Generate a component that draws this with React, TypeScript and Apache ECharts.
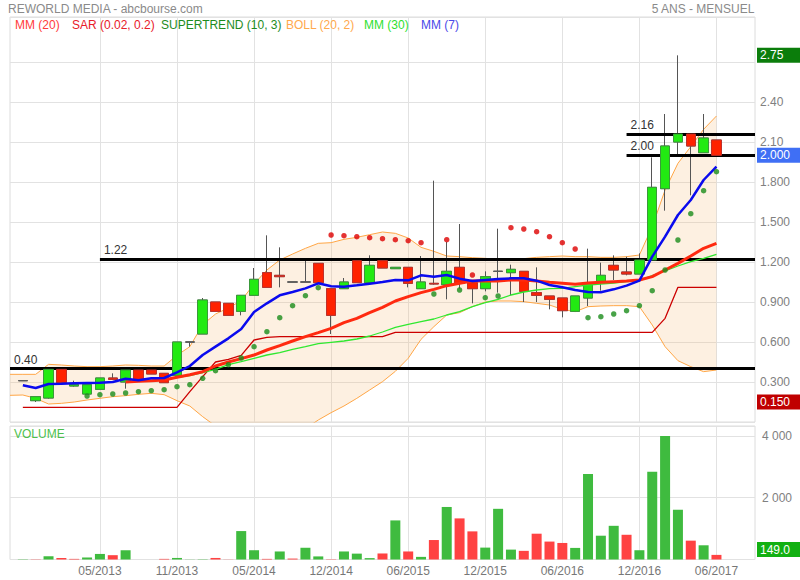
import React, { useEffect, useRef } from "react";
import * as echarts from "echarts";

const MONTHS = [
  "11/2012", "12/2012", "01/2013", "02/2013", "03/2013", "04/2013",
  "05/2013", "06/2013", "07/2013", "08/2013", "09/2013", "10/2013",
  "11/2013", "12/2013", "01/2014", "02/2014", "03/2014", "04/2014",
  "05/2014", "06/2014", "07/2014", "08/2014", "09/2014", "10/2014",
  "12/2014", "01/2015", "02/2015", "03/2015", "04/2015", "05/2015",
  "06/2015", "07/2015", "08/2015", "09/2015", "10/2015", "11/2015",
  "12/2015", "01/2016", "02/2016", "03/2016", "04/2016", "05/2016",
  "06/2016", "07/2016", "08/2016", "09/2016", "10/2016", "11/2016",
  "12/2016", "01/2017", "02/2017", "03/2017", "04/2017", "05/2017",
  "06/2017",
];
const PAD_BEFORE = ["10/2012"];
const PAD_AFTER = ["07/2017", "08/2017", "09/2017"];
const LABELED_MONTHS = ["05/2013", "11/2013", "05/2014", "12/2014", "06/2015", "12/2015", "06/2016", "12/2016", "06/2017"];

const OPEN = [
  0.31, 0.16, 0.18, 0.395, 0.27, 0.21, 0.245, 0.33, 0.30, 0.39,
  0.39, 0.365, 0.35, 0.60, 0.66, 0.90, 0.89, 0.83, 0.95, 1.12,
  1.10, 1.05, 1.05, 1.19, 1.00, 1.00, 1.21, 1.045, 1.21, 1.15,
  1.16, 1.00, 1.04, 1.03, 1.16, 1.045, 1.00, 1.13, 1.12, 1.13,
  0.97, 0.945, 0.93, 0.83, 0.93, 1.055, 1.175, 1.125, 1.11, 1.215,
  1.75, 2.10, 2.16, 2.02, 2.115,
];
const CLOSE = [
  0.31, 0.19, 0.395, 0.295, 0.28, 0.28, 0.33, 0.32, 0.39, 0.31,
  0.36, 0.295, 0.60, 0.60, 0.915, 0.83, 0.80, 0.95, 1.07, 1.01,
  1.09, 1.05, 1.05, 1.045, 0.80, 1.05, 1.045, 1.175, 1.155, 1.16,
  1.04, 1.05, 1.035, 1.13, 1.04, 1.00, 1.09, 1.13, 1.145, 0.98,
  0.95, 0.92, 0.835, 0.945, 1.04, 1.10, 1.14, 1.11, 1.215, 1.76,
  2.07, 2.16, 2.07, 2.13, 2.00,
];
const LOW = [
  0.31, 0.15, 0.175, 0.295, 0.265, 0.21, 0.245, 0.32, 0.25, 0.31,
  0.36, 0.295, 0.35, 0.565, 0.66, 0.83, 0.80, 0.80, 0.95, 1.01,
  1.01, 1.05, 1.05, 1.045, 0.66, 1.00, 1.045, 1.045, 1.155, 1.15,
  1.01, 1.00, 1.03, 0.92, 1.00, 0.89, 0.98, 0.97, 0.95, 0.90,
  0.90, 0.845, 0.785, 0.83, 0.87, 0.985, 1.065, 1.10, 1.11, 1.215,
  1.585, 2.00, 1.70, 2.02, 1.99,
];
const HIGH = [
  0.31, 0.19, 0.395, 0.395, 0.31, 0.28, 0.33, 0.365, 0.39, 0.39,
  0.39, 0.365, 0.60, 0.60, 0.93, 0.90, 0.89, 0.95, 1.155, 1.40,
  1.31, 1.05, 1.215, 1.19, 1.00, 1.08, 1.21, 1.25, 1.21, 1.16,
  1.16, 1.245, 1.81, 1.35, 1.485, 1.045, 1.13, 1.45, 1.18, 1.13,
  1.16, 0.945, 0.93, 0.945, 1.30, 1.195, 1.25, 1.24, 1.265, 1.985,
  2.31, 2.75, 2.16, 2.31, 2.115,
];

const VOLUME = [
  10, 5, 105, 45, 20, 65, 180, 140, 300, 0,
  0, 20, 50, 5, 10, 50, 5, 920, 300, 20,
  260, 30, 380, 100, 10, 260, 190, 45, 195, 1265,
  260, 85, 630, 1700, 1330, 910, 385, 1640, 320, 280,
  835, 580, 535, 375, 2770, 770, 1090, 800, 300, 2840,
  4000, 1610, 610, 460, 149,
];
const VOLUME_UP = [
  1, 0, 1, 0, 0, 1, 1, 0, 1, 0,
  0, 0, 1, 1, 1, 0, 0, 1, 1, 0,
  1, 0, 1, 1, 0, 1, 1, 1, 0, 1,
  0, 1, 0, 1, 0, 0, 1, 1, 1, 0,
  0, 0, 0, 1, 1, 1, 1, 0, 1, 1,
  1, 1, 0, 1, 0,
];

const MM7 = [
  0.275, 0.255, 0.285, 0.287, 0.29, 0.2925, 0.295, 0.30, 0.325, 0.3125,
  0.3275, 0.33, 0.3725, 0.42, 0.5025, 0.565, 0.6275, 0.6975, 0.825, 0.89,
  0.95, 0.975, 1.0025, 1.04, 1.0175, 1.015, 1.025, 1.0375, 1.05, 1.065,
  1.0625, 1.10, 1.09, 1.1025, 1.075, 1.0575, 1.065, 1.0725, 1.0775, 1.0775,
  1.06, 1.0275, 1.01, 0.99, 0.975, 0.9725, 0.995, 1.0225, 1.06, 1.24,
  1.39, 1.5525, 1.665, 1.815, 1.915,
];
const MM20 = [
  null, null, null, null, null, null, null, null, 0.30, 0.305,
  0.31, 0.315, 0.335, 0.355, 0.3775, 0.42, 0.45, 0.475, 0.5025, 0.54,
  0.5725, 0.6075, 0.64, 0.67, 0.7025, 0.745, 0.7775, 0.82, 0.86, 0.9075,
  0.94, 0.97, 0.995, 1.0225, 1.04, 1.0575, 1.0575, 1.0575, 1.065, 1.065,
  1.0575, 1.0475, 1.04, 1.0325, 1.0425, 1.0475, 1.0525, 1.0575, 1.065, 1.09,
  1.14, 1.19, 1.245, 1.3025, 1.34,
];
const MM30 = [
  null, null, null, null, null, null, null, null, 0.30, 0.305,
  0.31, 0.315, 0.335, 0.3475, 0.37, 0.395, 0.43, 0.4525, 0.4775, 0.5025,
  0.52, 0.545, 0.565, 0.5875, 0.5975, 0.6075, 0.6225, 0.645, 0.675, 0.71,
  0.7325, 0.7525, 0.7725, 0.8025, 0.8275, 0.865, 0.895, 0.92, 0.9525, 0.975,
  0.99, 1.0, 1.0025, 1.015, 1.0275, 1.035, 1.0425, 1.0525, 1.06, 1.0975,
  1.1325, 1.17, 1.2025, 1.2275, 1.2575,
];
// Bollinger band drawn from the left edge of the panel (one value before the first month)
const BOLL_UPPER = [
  0.3575, 0.3575, 0.3575, 0.4325, 0.4275, 0.42, 0.415, 0.415, 0.42, 0.4275, 0.425,
  0.42, 0.42, 0.50, 0.565, 0.73, 0.81, 0.855, 0.91, 1.035, 1.14,
  1.215, 1.26, 1.3025, 1.34, 1.345, 1.37, 1.385, 1.405, 1.425, 1.415,
  1.38, 1.31, 1.28, 1.245, 1.24, 1.2325, 1.2275, 1.22, 1.22, 1.225,
  1.235, 1.24, 1.245, 1.24, 1.24, 1.235, 1.235, 1.24, 1.2525, 1.465,
  1.74, 1.94, 2.065, 2.195, 2.295,
];
const BOLL_LOWER = [
  0.20, 0.2025, 0.1775, 0.135, 0.14, 0.15, 0.165, 0.1775, 0.19, 0.1975, 0.2075,
  0.215, 0.205, 0.16, 0.12, 0.04, -0.03, -0.08, -0.12, -0.16, -0.18,
  -0.17, -0.12, -0.05, 0.015, 0.07, 0.12, 0.1775, 0.24, 0.3025, 0.38,
  0.4775, 0.62, 0.715, 0.8025, 0.82, 0.865, 0.9, 0.9075, 0.9075, 0.9025,
  0.89, 0.8775, 0.845, 0.8275, 0.865, 0.87, 0.8725, 0.8725, 0.865, 0.7275,
  0.565, 0.46, 0.415, 0.3775, 0.39,
];
const SAR = [
  null, null, null, null, null, 0.195, 0.205, 0.21, 0.2175, 0.2275,
  0.235, 0.2425, 0.265, 0.28, 0.3275, 0.385, 0.43, 0.48, 0.565, 0.6775,
  0.7825, 0.8725, 0.9475, 1.0075, 1.4025, 1.3975, 1.39, 1.3825, 1.375, 1.3675,
  1.36, 1.345, 0.96, 1.3675, 0.99, 1.1025, 0.9325, 0.945, 1.4575, 1.4475,
  1.4275, 1.39, 1.345, 1.2975, 0.7825, 0.79, 0.81, 0.835, 0.8725, 0.985,
  1.14, 1.365, 1.5625, 1.735, 1.8775,
];
const SAR_ABOVE = [
  0, 0, 0, 0, 0, 0, 0, 0, 0, 0,
  0, 0, 0, 0, 0, 0, 0, 0, 0, 0,
  0, 0, 0, 0, 1, 1, 1, 1, 1, 1,
  1, 1, 0, 1, 0, 1, 0, 0, 1, 1,
  1, 1, 1, 1, 0, 0, 0, 0, 0, 0,
  0, 0, 0, 0, 0,
];
const SUPERTREND = [
  0.11, 0.11, 0.11, 0.11, 0.11, 0.11, 0.11, 0.11, 0.11, 0.11,
  0.11, 0.11, 0.11, 0.2275, 0.34, 0.45, 0.47, 0.50, 0.615, 0.635,
  0.64, 0.64, 0.64, 0.64, 0.64, 0.64, 0.64, 0.64, 0.64, 0.6725,
  0.6725, 0.6725, 0.6725, 0.6725, 0.6725, 0.6725, 0.6725, 0.6725, 0.6725, 0.6725,
  0.6725, 0.6725, 0.6725, 0.6725, 0.6725, 0.6725, 0.6725, 0.6725, 0.6725, 0.6725,
  0.7775, 1.01, 1.01, 1.01, 1.01,
];

const LEVELS = [0.40, 1.22, 2.16, 2.00];
const LEVEL_FROM = ["10/2012", "05/2013", "11/2016", "11/2016"];
const LEVEL_LABELS = ["0.40", "1.22", "2.16", "2.00"];

// the 2.70 tick sits under the 2.75 price tag and is not shown
const PRICE_TICKS = [0.3, 0.6, 0.9, 1.2, 1.5, 1.8, 2.1, 2.4];
const PRICE_TICK_LABELS = ["0.300", "0.600", "0.900", "1.200", "1.500", "1.800", "2.10", "2.40"];
const VOL_TICKS = [2000, 4000];
const VOL_TICK_LABELS = ["2 000", "4 000"];

const LEGEND = [
  { text: "MM (20)", color: "#ff3b3b" },
  { text: "SAR (0.02, 0.2)", color: "#e8202a" },
  { text: "SUPERTREND (10, 3)", color: "#1e8c1e" },
  { text: "BOLL (20, 2)", color: "#ffa94d" },
  { text: "MM (30)", color: "#2ee02e" },
  { text: "MM (7)", color: "#4a4ae8" },
];
const LEGEND_X = [15, 72, 161, 286, 364, 421];

const FONT = "'Liberation Sans', Arial, Helvetica, sans-serif";
const CATS = [...PAD_BEFORE, ...MONTHS, ...PAD_AFTER];

function pad(arr: (number | null)[]) {
  return [
    ...PAD_BEFORE.map(() => "-"),
    ...arr.map((v) => (v == null ? "-" : v)),
    ...PAD_AFTER.map(() => "-"),
  ];
}

export default function App() {
  const ref = useRef<HTMLDivElement>(null);

  useEffect(() => {
    if (!ref.current) return;
    const chart = echarts.init(ref.current, null, { renderer: "svg" });

    const labeled = (_i: number, v: string) => LABELED_MONTHS.includes(v);
    const wickData = [
      ...PAD_BEFORE.map(() => "-"),
      ...MONTHS.map((_, i) => [OPEN[i], CLOSE[i], LOW[i], HIGH[i]]),
      ...PAD_AFTER.map(() => "-"),
    ];
    const bodyData = [
      ...PAD_BEFORE.map(() => "-"),
      ...MONTHS.map((_, i) => [OPEN[i], CLOSE[i], Math.min(OPEN[i], CLOSE[i]), Math.max(OPEN[i], CLOSE[i])]),
      ...PAD_AFTER.map(() => "-"),
    ];
    const bollLowerP = [...BOLL_LOWER, ...PAD_AFTER.map(() => "-")];
    const bollUpperP = [...BOLL_UPPER, ...PAD_AFTER.map(() => "-")];
    const bollDiff = [...BOLL_UPPER.map((u, i) => +(u - BOLL_LOWER[i]).toFixed(4)), ...PAD_AFTER.map(() => "-")];
    const sarBelow = pad(SAR.map((v, i) => (SAR_ABOVE[i] ? null : v)));
    const sarAbove = pad(SAR.map((v, i) => (SAR_ABOVE[i] ? v : null)));
    const volData = [
      ...PAD_BEFORE.map(() => "-"),
      ...VOLUME.map((v, i) => ({ value: v, itemStyle: { color: VOLUME_UP[i] ? "#3fbb3f" : "#ff4242" } })),
      ...PAD_AFTER.map(() => "-"),
    ];

    // ticks: 0, 0.3 ... 2.7, 3.0, max  -> hide the 3.0 line (inside legend row)
    const priceSplitColors = [
      "#e2e2e2", "#e2e2e2", "#e2e2e2", "#e2e2e2", "#e2e2e2", "#e2e2e2",
      "#e2e2e2", "#e2e2e2", "#e2e2e2", "#e2e2e2", "rgba(0,0,0,0)", "#e2e2e2",
    ];

    const lineBase = {
      type: "line",
      xAxisIndex: 0,
      yAxisIndex: 0,
      symbol: "none",
      silent: true,
      connectNulls: false,
    };

    const option: any = {
      animation: false,
      backgroundColor: "#ffffff",
      textStyle: { fontFamily: FONT },
      grid: [
        { left: 10, right: 45, top: 17, bottom: 158, show: true, borderColor: "#dcdcdc", borderWidth: 1 },
        { left: 10, right: 45, top: 426, height: 133.5, show: true, borderColor: "#dcdcdc", borderWidth: 1 },
      ],
      xAxis: [
        {
          type: "category", gridIndex: 0, data: CATS, boundaryGap: false,
          axisLine: { show: false }, axisTick: { show: false }, axisLabel: { show: false },
          splitLine: { show: true, interval: labeled, lineStyle: { color: "#e2e2e2" } },
        },
        {
          type: "category", gridIndex: 1, data: CATS, boundaryGap: false,
          axisLine: { show: false }, axisTick: { show: false },
          axisLabel: { show: true, interval: labeled, color: "#777", fontSize: 12, margin: 5, fontFamily: FONT },
          splitLine: { show: true, interval: labeled, lineStyle: { color: "#e2e2e2" } },
        },
      ],
      yAxis: [
        {
          type: "value", gridIndex: 0, position: "right", min: 0, max: 3.0375, interval: 0.3,
          axisLine: { show: false }, axisTick: { show: false },
          axisLabel: {
            color: "#808080", fontSize: 12, margin: 5, fontFamily: FONT,
            formatter: (v: number) => {
              const k = PRICE_TICKS.findIndex((t) => Math.abs(t - v) < 1e-6);
              return k >= 0 ? PRICE_TICK_LABELS[k] : "";
            },
          },
          splitLine: { show: true, lineStyle: { color: priceSplitColors } },
        },
        {
          type: "value", gridIndex: 1, position: "right", min: 0, max: 4320, interval: 2000,
          axisLine: { show: false }, axisTick: { show: false },
          axisLabel: {
            color: "#808080", fontSize: 12, margin: 7, fontFamily: FONT,
            formatter: (v: number) => {
              const k = VOL_TICKS.indexOf(v);
              return k >= 0 ? VOL_TICK_LABELS[k] : "";
            },
          },
          splitLine: { show: true, lineStyle: { color: "#e2e2e2" } },
        },
      ],
      series: [
        {
          ...lineBase, name: "bollBase", data: bollLowerP, stack: "boll", stackStrategy: "all",
          lineStyle: { opacity: 0 }, z: 1,
        },
        {
          ...lineBase, name: "bollFill", data: bollDiff, stack: "boll", stackStrategy: "all",
          lineStyle: { opacity: 0 }, areaStyle: { color: "rgba(248,190,122,0.32)" }, z: 1,
        },
        { ...lineBase, name: "bollUpper", data: bollUpperP, lineStyle: { color: "#ffa646", width: 1 }, z: 2 },
        { ...lineBase, name: "bollLower", data: bollLowerP, lineStyle: { color: "#ffa646", width: 1 }, z: 2 },
        { ...lineBase, name: "supertrend", data: pad(SUPERTREND), lineStyle: { color: "#cc0000", width: 1.3 }, z: 3 },
        {
          type: "candlestick", name: "wicks", xAxisIndex: 0, yAxisIndex: 0, data: wickData, barWidth: 10, silent: true, z: 4,
          itemStyle: {
            color: "rgba(0,0,0,0)", color0: "rgba(0,0,0,0)",
            borderColor: "#555555", borderColor0: "#555555", borderColorDoji: "#555555", borderWidth: 1,
          },
        },
        {
          type: "candlestick", name: "bodies", xAxisIndex: 0, yAxisIndex: 0, data: bodyData, barWidth: 10, silent: true, z: 5,
          itemStyle: {
            color: "#22ea12", color0: "#ff2200",
            borderColor: "#3a9a3a", borderColor0: "#c0302a", borderColorDoji: "#5a5a5a", borderWidth: 1,
          },
        },
        { ...lineBase, name: "MM30", data: pad(MM30), lineStyle: { color: "#30e830", width: 1.3 }, z: 6 },
        { ...lineBase, name: "MM20", data: pad(MM20), lineStyle: { color: "#ff2a10", width: 3 }, z: 7 },
        { ...lineBase, name: "MM7", data: pad(MM7), lineStyle: { color: "#0a0aee", width: 2.5 }, z: 8 },
        {
          type: "scatter", name: "sarBelow", xAxisIndex: 0, yAxisIndex: 0, data: sarBelow, symbolSize: 5.5, silent: true, z: 9,
          itemStyle: { color: "#1a8c1a" },
        },
        {
          type: "scatter", name: "sarAbove", xAxisIndex: 0, yAxisIndex: 0, data: sarAbove, symbolSize: 5.5, silent: true, z: 9,
          itemStyle: { color: "#dd0000" },
        },
        {
          type: "line", name: "levels", xAxisIndex: 0, yAxisIndex: 0, data: [], z: 10, silent: true,
          markLine: {
            silent: true, symbol: ["none", "none"], animation: false,
            lineStyle: { color: "#000000", width: 3, type: "solid" },
            label: {
              show: true, position: "insideStartTop", formatter: "{b}", color: "#333333",
              fontSize: 12, fontFamily: FONT, distance: [4, 3],
            },
            data: LEVELS.map((v, i) => [
              { name: LEVEL_LABELS[i], coord: [LEVEL_FROM[i], v] },
              { coord: [CATS[CATS.length - 1], v] },
            ]),
          },
        },
        {
          type: "bar", name: "volume", xAxisIndex: 1, yAxisIndex: 1, data: volData, barWidth: 10, silent: true,
        },
      ],
    };

    chart.setOption(option);

    const tag = (yc: number, text: string, fill: string) => ({
      type: "group",
      z: 100,
      children: [
        { type: "rect", shape: { x: 757, y: yc - 7.5, width: 43, height: 15 }, style: { fill } },
        {
          type: "text", x: 760, y: yc,
          style: { text, fill: "#ffffff", font: `12px ${FONT}`, verticalAlign: "middle", align: "left" },
        },
      ],
    });

    const maxHigh = Math.max(...HIGH);
    const minLow = Math.min(...LOW);
    const lastClose = CLOSE[CLOSE.length - 1];
    const lastVol = VOLUME[VOLUME.length - 1];
    const yMax = chart.convertToPixel({ yAxisIndex: 0 }, maxHigh) as number;
    const yMin = chart.convertToPixel({ yAxisIndex: 0 }, minLow) as number;
    const yLast = chart.convertToPixel({ yAxisIndex: 0 }, lastClose) as number;
    const yVol0 = chart.convertToPixel({ yAxisIndex: 1 }, 0) as number;
    const yVol = Math.min(chart.convertToPixel({ yAxisIndex: 1 }, lastVol) as number, yVol0 - 10);

    const graphics: any[] = [
      {
        type: "text", left: 8, top: 3,
        style: { text: "REWORLD MEDIA - abcbourse.com", fill: "#8a8a8a", font: `12px ${FONT}` },
      },
      {
        type: "text", right: 45, top: 3,
        style: { text: "5 ANS - MENSUEL", fill: "#8a8a8a", font: `12px ${FONT}` },
      },
      ...LEGEND.map((l, i) => ({
        type: "text", x: LEGEND_X[i], y: 25,
        style: { text: l.text, fill: l.color, font: `12px ${FONT}`, verticalAlign: "middle" },
      })),
      {
        type: "text", x: 14, y: 434,
        style: { text: "VOLUME", fill: "#4cbf4c", font: `12px ${FONT}`, verticalAlign: "middle" },
      },
      tag(yMax, maxHigh.toFixed(2), "#0b7d0b"),
      tag(yLast, lastClose.toFixed(3), "#3f6ff5"),
      tag(yMin, minLow.toFixed(3), "#c00000"),
      tag(yVol, lastVol.toFixed(1), "#12b012"),
    ];
    chart.setOption({ graphic: graphics });

    return () => chart.dispose();
  }, []);

  return (
    <div
      ref={ref}
      style={{ position: "absolute", left: 0, top: 0, width: 800, height: 580, background: "#fff" }}
    />
  );
}
